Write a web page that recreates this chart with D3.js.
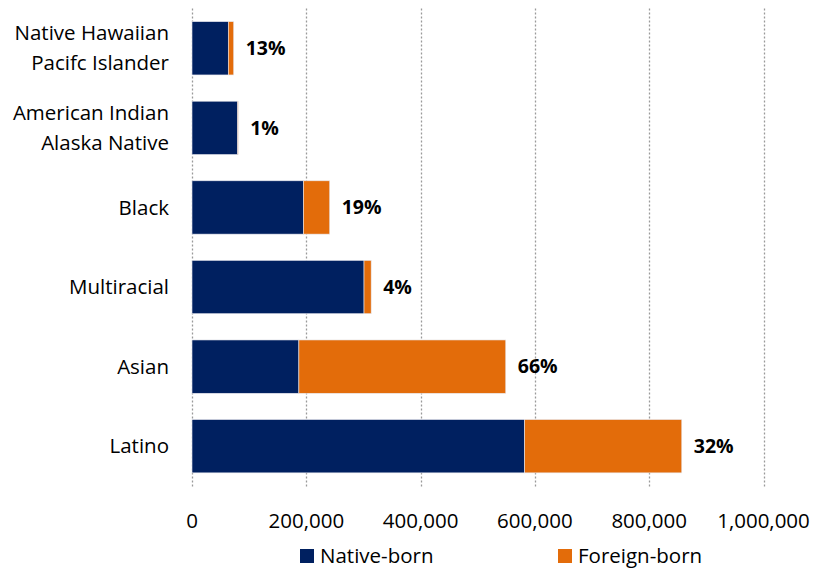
<!DOCTYPE html>
<html>
<head>
<meta charset="utf-8">
<script src="https://cdn.jsdelivr.net/npm/d3@7/dist/d3.min.js"></script>
<style>
  html, body { margin: 0; padding: 0; background: #fff; }
  svg { display: block; }
  text { font-family: "Open Sans", sans-serif; fill: #000; }
</style>
</head>
<body>
<svg id="chart" width="814" height="573"></svg>
<script>
// Population by race/ethnicity, split into native-born and foreign-born
const categories = [
  ["Native Hawaiian", "Pacifc Islander"],
  ["American Indian", "Alaska Native"],
  ["Black"],
  ["Multiracial"],
  ["Asian"],
  ["Latino"]
];
const nativeBorn  = [63500, 80000, 195000, 301000, 187000, 582000];
const foreignBorn = [9500,  800,   46000,  12500,  362000, 275000];
const shareLabels = ["13%", "1%", "19%", "4%", "66%", "32%"];
const xTicks = [0, 200000, 400000, 600000, 800000, 1000000];
const seriesNames = ["Native-born", "Foreign-born"];
const colors = ["#002060", "#E36C0A"];

const svg = d3.select("#chart");
const plotLeft = 192, plotRight = 763.5, plotTop = 8.5, plotBottom = 486;
const fontSize = 20.5;

const x = d3.scaleLinear().domain([0, 1000000]).range([plotLeft, plotRight]);
const y = d3.scaleBand().domain(d3.range(categories.length)).range([plotTop, plotBottom]).paddingInner(0.33).paddingOuter(0.165);

// Dotted vertical gridlines
svg.append("g").selectAll("line").data(xTicks).join("line")
  .attr("x1", d => Math.round(x(d)) + 0.5).attr("x2", d => Math.round(x(d)) + 0.5)
  .attr("y1", plotTop).attr("y2", plotBottom + 2)
  .attr("stroke", "#9a9a9a").attr("stroke-width", 1.3).attr("stroke-dasharray", "2,2");

// Stacked bars
const rows = categories.map((c, i) => ({ i, parts: [nativeBorn[i], foreignBorn[i]] }));
const g = svg.append("g");
rows.forEach(r => {
  let acc = 0;
  r.parts.forEach((v, k) => {
    g.append("rect")
      .attr("x", x(acc)).attr("y", y(r.i))
      .attr("width", x(acc + v) - x(acc)).attr("height", y.bandwidth())
      .attr("fill", colors[k])
      .attr("stroke", "#e8e8ee").attr("stroke-width", 0.6);
    acc += v;
  });
  // Foreign-born share label
  g.append("text")
    .attr("x", x(acc) + 12).attr("y", y(r.i) + y.bandwidth() / 2)
    .attr("dy", "0.35em")
    .attr("font-size", 19.5).attr("font-weight", "bold")
    .text(shareLabels[r.i]);
});

// Category labels
const cat = svg.append("g");
categories.forEach((lines, i) => {
  const cy = y(i) + y.bandwidth() / 2;
  const lh = 30;
  lines.forEach((ln, j) => {
    cat.append("text")
      .attr("x", 169).attr("y", cy + (j - (lines.length - 1) / 2) * lh)
      .attr("dy", "0.35em").attr("text-anchor", "end")
      .attr("font-size", fontSize)
      .text(ln);
  });
});

// X axis tick labels
const fmt = d3.format(",");
svg.append("g").selectAll("text").data(xTicks).join("text")
  .attr("x", d => x(d)).attr("y", 521).attr("dy", "0.35em")
  .attr("text-anchor", "middle").attr("font-size", fontSize)
  .text(d => fmt(d));

// Legend
const legendX = [300, 558];
const lg = svg.append("g");
seriesNames.forEach((name, k) => {
  lg.append("rect").attr("x", legendX[k]).attr("y", 549).attr("width", 14).attr("height", 14).attr("fill", colors[k]);
  lg.append("text").attr("x", legendX[k] + 20).attr("y", 556).attr("dy", "0.35em")
    .attr("font-size", fontSize).text(name);
});
</script>
</body>
</html>
